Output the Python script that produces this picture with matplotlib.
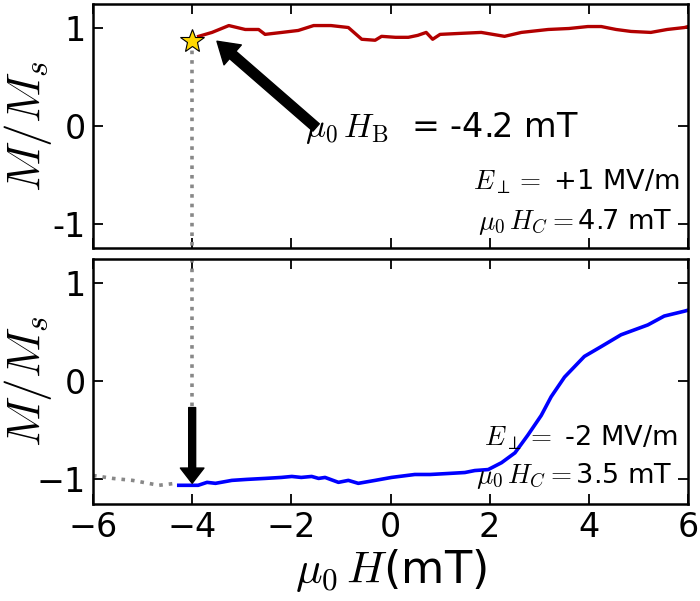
import matplotlib
matplotlib.use("Agg")
import matplotlib.pyplot as plt

plt.rcParams['mathtext.fontset'] = 'cm'
plt.rcParams['font.family'] = ['DejaVu Sans']

# Top panel (E = +1 MV/m), red curve
top_x = [-3.87, -3.6, -3.26, -2.93, -2.66, -2.53, -2.19, -1.86, -1.55, -1.2, -0.85,
         -0.58, -0.31, -0.18, 0.1, 0.36, 0.55, 0.72, 0.85, 1.0, 1.4, 1.83, 2.3, 2.64,
         3.18, 3.6, 3.98, 4.25, 4.55, 4.85, 5.25, 5.58, 5.93, 6.0]
top_y = [0.91, 0.95, 1.02, 0.98, 0.98, 0.93, 0.95, 0.97, 1.02, 1.02, 1.0,
         0.88, 0.87, 0.91, 0.90, 0.90, 0.92, 0.95, 0.88, 0.93, 0.94, 0.95, 0.91, 0.95,
         0.98, 0.99, 1.01, 1.01, 0.98, 0.96, 0.95, 0.98, 1.0, 1.01]

# Bottom panel (E = -2 MV/m), blue curve
bot_x = [-4.27, -3.88, -3.7, -3.53, -3.2, -2.9, -2.53, -2.2, -1.99, -1.8, -1.59, -1.45,
         -1.32, -1.05, -0.85, -0.65, -0.31, 0.02, 0.49, 0.8, 1.16, 1.5, 1.70, 1.97, 2.24,
         2.51, 2.77, 3.04, 3.24, 3.51, 3.91, 4.25, 4.65, 5.19, 5.52, 5.93, 6.0]
bot_y = [-1.06, -1.06, -1.03, -1.04, -1.01, -1.0, -0.99, -0.98, -0.97, -0.98, -0.97, -0.99,
         -0.98, -1.03, -1.01, -1.04, -1.01, -0.98, -0.95, -0.95, -0.94, -0.93, -0.91, -0.90,
         -0.83, -0.73, -0.55, -0.35, -0.16, 0.04, 0.25, 0.35, 0.47, 0.57, 0.66, 0.71, 0.72]

# grey dotted extension in bottom panel
grey_x = [-6.0, -5.6, -5.2, -4.67, -4.34]
grey_y = [-0.96, -0.99, -1.01, -1.06, -1.04]

# switching point
HB_x = -4.0
HB_y = 0.86

xticks = [-6, -4, -2, 0, 2, 4, 6]
xticklabels = ['\u22126', '\u22124', '\u22122', '0', '2', '4', '6']
yticks = [-1, 0, 1]
top_yticklabels = ['-1', '0', '1']
bot_yticklabels = ['\u22121', '0', '1']

fig = plt.figure(figsize=(7.0, 6.01), dpi=100)
W, H = 700, 601
def rect(l, t, r, b):
    return [l / W, 1 - b / H, (r - l) / W, (b - t) / H]

ax1 = fig.add_axes(rect(93, 4, 688, 248))
ax2 = fig.add_axes(rect(93, 259, 688, 504))

grey = '#888888'
for ax in (ax1, ax2):
    ax.set_xlim(-6, 6)
    ax.set_ylim(-1.25, 1.24)
    ax.set_xticks(xticks)
    ax.set_yticks(yticks)
    ax.tick_params(direction='in', length=7, width=1.3, top=True, right=True,
                   labelsize=24, pad=5)
    for s in ax.spines.values():
        s.set_linewidth(1.8)

ax1.set_xticklabels([])
ax1.set_yticklabels(top_yticklabels)
ax2.set_xticklabels(xticklabels)
ax2.set_yticklabels(bot_yticklabels)

# top panel
ax1.plot([HB_x, HB_x], [HB_y, -1.25], linestyle=':', color=grey, lw=2.6)
ax1.plot(top_x, top_y, color='#b20000', lw=2.4)
ax1.plot([HB_x], [HB_y], marker='*', markersize=18, color='gold',
         markeredgecolor='black', markeredgewidth=0.8, linestyle='none')
ax1.annotate('', xy=(-3.5, 0.86), xytext=(-1.5, -0.02),
             arrowprops=dict(facecolor='black', edgecolor='black', width=7,
                             headwidth=19, headlength=15, shrink=0))
ax1.text(-1.73, -0.12, r'$\mu_0\,H_\mathrm{B}$  = -4.2 mT', fontsize=24,
         ha='left', va='baseline')
ax1.text(5.83, -0.65, r'$E_\perp =$ +1 MV/m', fontsize=19.5, ha='right', va='baseline')
ax1.text(5.69, -1.06, r'$\mu_0\,H_C =$4.7 mT', fontsize=19.5, ha='right', va='baseline')
ax1.set_ylabel(r'$M/M_s$', fontsize=34)

# bottom panel
ax2.plot([HB_x, HB_x], [1.24, -0.27], linestyle=':', color=grey, lw=2.6)
ax2.plot(grey_x, grey_y, linestyle=':', color=grey, lw=2.6)
ax2.plot(bot_x, bot_y, color='#0000ff', lw=2.6)
ax2.annotate('', xy=(HB_x, -1.04), xytext=(HB_x, -0.27),
             arrowprops=dict(facecolor='black', edgecolor='black', width=5,
                             headwidth=17, headlength=11, shrink=0))
ax2.text(5.79, -0.65, r'$E_\perp =$ -2 MV/m', fontsize=19.5, ha='right', va='baseline')
ax2.text(5.69, -1.04, r'$\mu_0\,H_C =$3.5 mT', fontsize=19.5, ha='right', va='baseline')
ax2.set_ylabel(r'$M/M_s$', fontsize=34)
ax2.set_xlabel(r'$\mu_0\,H$(mT)', fontsize=32, labelpad=2)

for ax in (ax1, ax2):
    ax.yaxis.set_label_coords(-0.109, 0.5)
    ax.yaxis.label.set_verticalalignment('center')

fig.savefig('out.png', dpi=100)
